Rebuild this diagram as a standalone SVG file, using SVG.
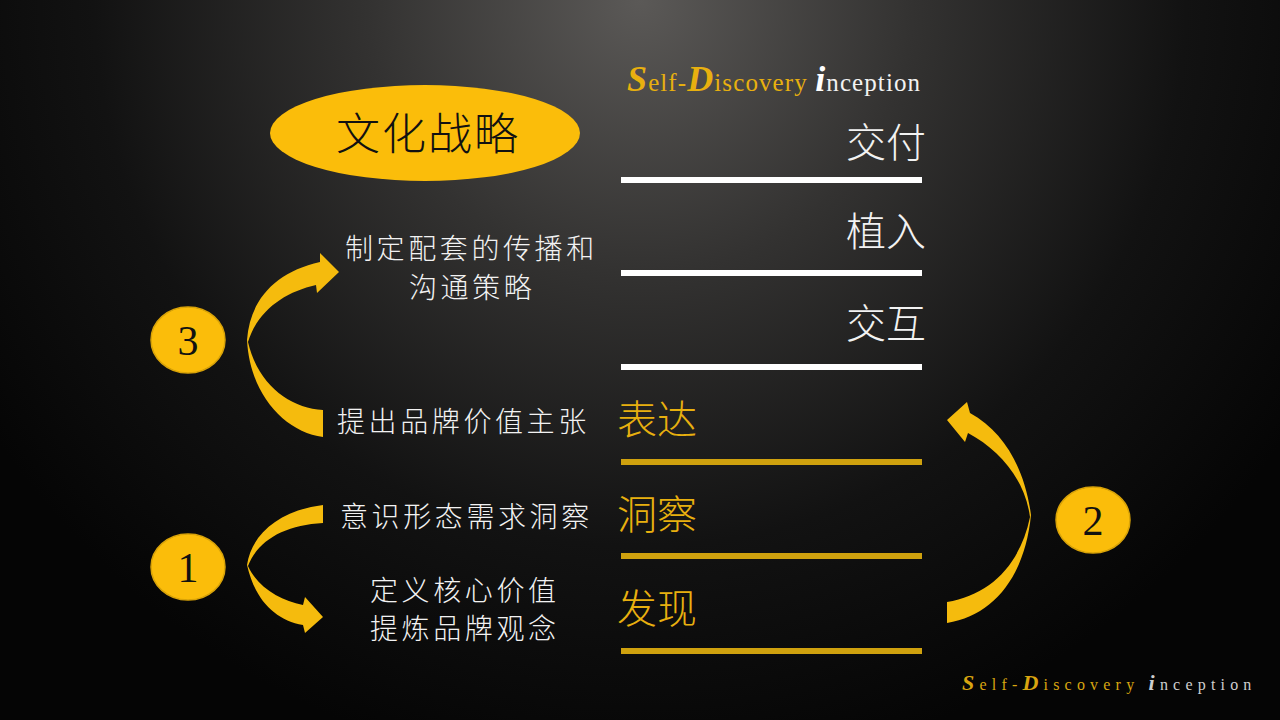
<svg xmlns="http://www.w3.org/2000/svg" width="1280" height="720" viewBox="0 0 1280 720">
<defs>
<radialGradient id="bg" gradientUnits="userSpaceOnUse" cx="640" cy="0" r="780">
<stop offset="0" stop-color="#5b5957"/>
<stop offset="0.35" stop-color="#333231"/>
<stop offset="0.7" stop-color="#121212"/>
<stop offset="1" stop-color="#050505"/>
</radialGradient>
<style>
.cn{font-family:"Noto Sans CJK SC","Noto Sans CJK JP",sans-serif;font-weight:300}
.lbl{font-size:28px;fill:#f2f2f2;letter-spacing:3.6px}
.big{font-size:40px;fill:#f2f2f2}
.gold{fill:#e8b00f}
.wl{stroke:#ffffff;stroke-width:6}
.gl{stroke:#cfa10e;stroke-width:6}
.badge{fill:#fbbd0a;stroke:#d9a308;stroke-width:1.5}
.num{font-family:"Liberation Serif",serif;font-size:42px;fill:#111;text-anchor:middle}
.arrow{fill:#f5bb0d}
.ser{font-family:"Liberation Serif",serif}
</style>
</defs>
<rect width="1280" height="720" fill="url(#bg)"/>

<g id="title">
<text class="ser" x="627" y="91" font-size="25" letter-spacing="1.1"><tspan fill="#e8b00f" font-weight="bold" font-style="italic" font-size="36">S</tspan><tspan fill="#e8b00f">elf-</tspan><tspan fill="#e8b00f" font-weight="bold" font-style="italic" font-size="36">D</tspan><tspan fill="#e8b00f">iscovery </tspan><tspan fill="#ffffff" font-weight="bold" font-style="italic" font-size="36">i</tspan><tspan fill="#f2f2f2">nception</tspan></text>
</g>

<g id="culture">
<ellipse cx="425" cy="133" rx="155" ry="48" fill="#fbbd0a"/>
<text class="cn" x="336" y="150" font-size="44" letter-spacing="2" fill="#111">文化战略</text>
</g>

<g id="levels">
<g id="deliver"><text class="cn big" x="926" y="157" text-anchor="end">交付</text><line class="wl" x1="621" y1="180" x2="922" y2="180"/></g>
<g id="implant"><text class="cn big" x="926" y="246" text-anchor="end">植入</text><line class="wl" x1="621" y1="273" x2="922" y2="273"/></g>
<g id="interact"><text class="cn big" x="926" y="338" text-anchor="end">交互</text><line class="wl" x1="621" y1="367" x2="922" y2="367"/></g>
<g id="express"><text class="cn big gold" x="617" y="434">表达</text><line class="gl" x1="621" y1="462" x2="922" y2="462"/></g>
<g id="insight"><text class="cn big gold" x="617" y="529">洞察</text><line class="gl" x1="621" y1="556" x2="922" y2="556"/></g>
<g id="discover"><text class="cn big gold" x="617" y="623">发现</text><line class="gl" x1="621" y1="651" x2="922" y2="651"/></g>
</g>

<g id="labels">
<g id="l-comm"><text class="cn lbl" x="345" y="259">制定配套的传播和</text><text class="cn lbl" x="409" y="298">沟通策略</text></g>
<g id="l-value"><text class="cn lbl" x="337" y="432">提出品牌价值主张</text></g>
<g id="l-ideo"><text class="cn lbl" x="340" y="527">意识形态需求洞察</text></g>
<g id="l-core"><text class="cn lbl" x="370" y="601">定义核心价值</text><text class="cn lbl" x="370" y="639">提炼品牌观念</text></g>
</g>

<g id="badge3"><ellipse class="badge" cx="188" cy="340" rx="37" ry="33"/><text class="num" x="188" y="355">3</text></g>
<g id="badge1"><ellipse class="badge" cx="188" cy="567" rx="37" ry="33"/><text class="num" x="188" y="582">1</text></g>
<g id="badge2"><ellipse class="badge" cx="1093" cy="520" rx="37" ry="33"/><text class="num" x="1093" y="535">2</text></g>

<g id="connectors">
<path class="arrow" d="M323,437 C285,432 250,395 247,340 C250,300 275,272 320,262 L320,253 L339,272 L317,293 L316,285 C285,292 258,310 248,342 C258,385 290,408 323,410 Z"/>
<path class="arrow" d="M323,505 C282,510 252,532 247,565 C255,600 275,620 303,625 L305,633 L323,617 L305,597 L303,605 C280,600 258,588 248,566 C258,540 285,525 323,523 Z"/>
<path class="arrow" d="M947,623 C995,615 1025,575 1031,515 C1025,470 1005,432 970,413 L967,402 L947,420 L965,442 L968,433 C1000,450 1025,480 1030,517 C1020,565 990,595 947,602 Z"/>
</g>

<g id="signature">
<text class="ser" x="962" y="690" font-size="16" letter-spacing="5.2"><tspan fill="#d9a510" font-weight="bold" font-style="italic" font-size="22">S</tspan><tspan fill="#d9a510">elf-</tspan><tspan fill="#d9a510" font-weight="bold" font-style="italic" font-size="22">D</tspan><tspan fill="#d9a510">iscovery </tspan><tspan fill="#cfcfcf" font-weight="bold" font-style="italic" font-size="22">i</tspan><tspan fill="#cfcfcf">nception</tspan></text>
</g>
</svg>
